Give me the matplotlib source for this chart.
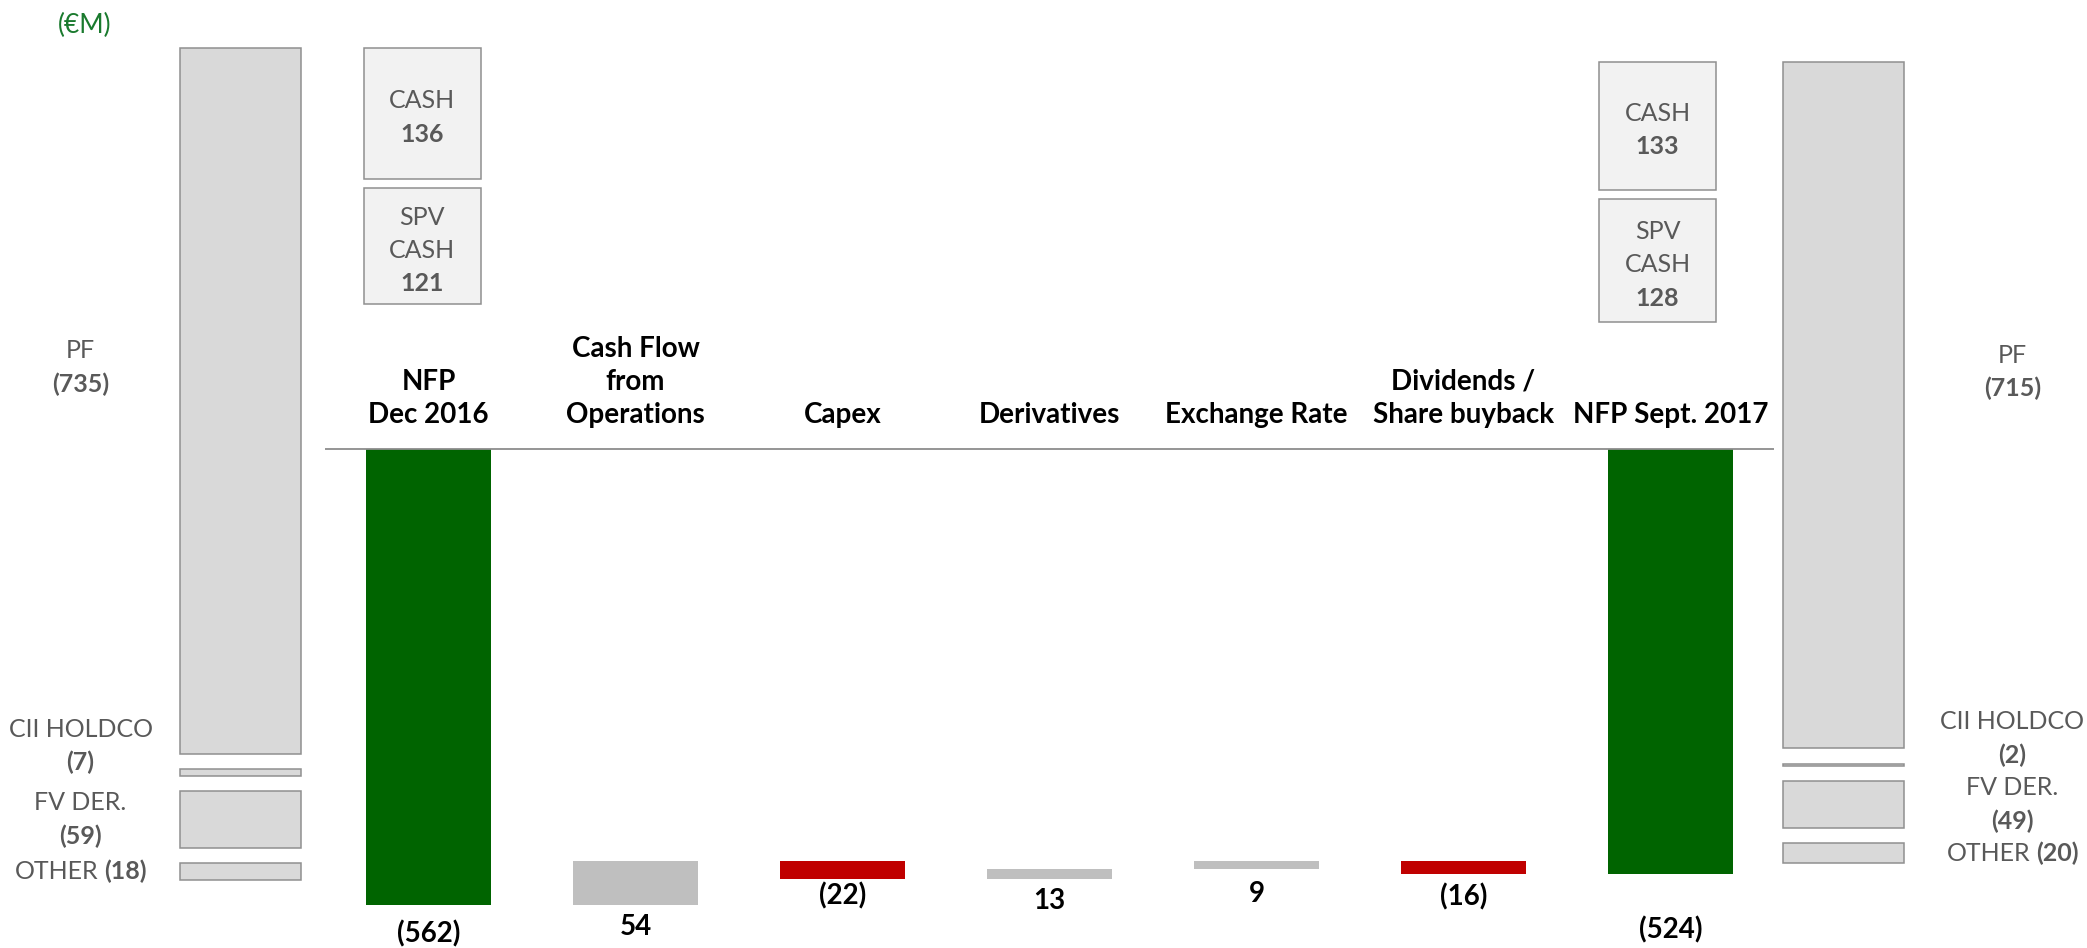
import matplotlib.pyplot as plt

plt.rcParams['font.family'] = ['Lato', 'DejaVu Sans']

# net financial position bridge (EUR M)
categories = ["NFP\nDec 2016", "Cash Flow\nfrom\nOperations", "Capex", "Derivatives",
              "Exchange Rate", "Dividends /\nShare buyback", "NFP Sept. 2017"]
values = [-562, 54, -22, 13, 9, -16, -524]
is_total = [True, False, False, False, False, False, True]

# breakdown of the two NFP bars
debt_items = ["PF", "CII HOLDCO", "FV DER.", "OTHER"]
left_debt = [-735, -7, -59, -18]
right_debt = [-715, -2, -49, -20]
cash_items = ["CASH", "SPV\nCASH"]
left_cash = [136, 121]
right_cash = [133, 128]

GREEN = "#006400"
RED = "#C00000"
GREY_BAR = "#BFBFBF"
LIGHT = "#D9D9D9"
EDGE = "#8F8F8F"
TXT_GREY = "#595959"

W, H = 2087, 948
step = 207.0  # px between categories
PT = 100 / 72.0


def fmt(v):
    return "(%d)" % -v if v < 0 else "%d" % v


fig = plt.figure(figsize=(W / 100, H / 100), dpi=100)
renderer = fig.canvas.get_renderer()
xlim = (-0.5 - 325 / step, -0.5 + (W - 325) / step)

# main waterfall axes, zero line at y=449px
ax = fig.add_axes([0, 0, 1, 1])
k = 0.812
ax.set_xlim(xlim)
ax.set_ylim(-(H - 449) / k, 449 / k)
ax.axis("off")

bottoms, heights, colors = [], [], []
running = 0
for v, tot in zip(values, is_total):
    if tot:
        bottoms.append(0)
        heights.append(v)
        colors.append(GREEN)
        running = v
    else:
        bottoms.append(running)
        heights.append(v)
        colors.append(GREY_BAR if v > 0 else RED)
        running += v

xs = list(range(len(categories)))
ax.bar(xs, heights, bottom=bottoms, width=0.6, color=colors, linewidth=0)
ax.hlines(0, -0.5, 6.5, color="#8C8C8C", lw=1.3)

pads = [11, 6.5, 2, 6, 8.5, 6, 30]
for x, b, h, v, p in zip(xs, bottoms, heights, values, pads):
    low = min(b, b + h)
    ax.annotate(fmt(v), (x, low), xytext=(0, -p), textcoords="offset points",
                ha="center", va="top", fontsize=20, fontweight="bold")

for x, c in zip(xs, categories):
    ax.annotate(c, (x, 0), xytext=(0, 19), textcoords="offset points",
                ha="center", va="baseline", multialignment="center",
                fontsize=20, fontweight="bold", linespacing=1.33)

fig.text(85 / W, 1 - 25 / H, "(€M)", fontsize=19, color="#1a7a2e",
         ha="center", va="center")


def stacked_text(b, x, y, lines, dy=0, ls=24, size=18):
    # grey labels, last line (the number) in bold
    n = len(lines)
    for i, s in enumerate(lines):
        off = dy + ((n - 1) / 2.0 - i) * ls
        b.annotate(s, (x, y), xytext=(0, off), textcoords="offset points",
                   ha="center", va="center", fontsize=size, color=TXT_GREY,
                   fontweight="bold" if i == n - 1 else "normal")


def inline_text(b, x, y, name, num, size=18):
    t1 = b.annotate(name, (x, y), textcoords="offset points", xytext=(0, 0),
                    ha="left", va="center", fontsize=size, color=TXT_GREY)
    t2 = b.annotate(num, (x, y), textcoords="offset points", xytext=(0, 0),
                    ha="left", va="center", fontsize=size, color=TXT_GREY,
                    fontweight="bold")
    w1 = t1.get_window_extent(renderer).width
    w2 = t2.get_window_extent(renderer).width
    sp = 6
    left = -(w1 + sp + w2) / 2
    t1.set_position((left / PT, 0))
    t2.set_position(((left + w1 + sp) / PT, 0))


def breakdown_axes(top_px):
    b = fig.add_axes([0, 0, 1, 1])
    b.set_xlim(xlim)
    kb = 0.96
    b.set_ylim(-(H - top_px) / kb, top_px / kb)
    b.axis("off")
    b.patch.set_alpha(0)
    return b


def draw_stack(b, xc, vals, names, lab_x, lab_dy, gap=16):
    top = 0
    for v, name, dy in zip(vals, names, lab_dy):
        h = abs(v)
        b.bar(xc, -h, bottom=top, width=0.585, color=LIGHT, edgecolor=EDGE, lw=1.1)
        mid = top - h / 2
        if name == "OTHER":
            inline_text(b, lab_x, mid, name, fmt(v))
        else:
            stacked_text(b, lab_x, mid, [name, fmt(v)], dy=dy)
        top -= h + gap


def draw_cash(b, xc, vals, names, gap=10):
    top = 0
    for v, name in zip(vals, names):
        b.bar(xc, -v, bottom=top, width=0.565, color="#F2F2F2", edgecolor=EDGE, lw=1.1)
        stacked_text(b, xc, top - v / 2, name.split("\n") + [fmt(v)], dy=-3)
        top -= v + gap


bl = breakdown_axes(48)
draw_stack(bl, -0.908, left_debt, debt_items, -1.681, [24, 19, 0, 0])
draw_cash(bl, -0.03, left_cash, cash_items)

br = breakdown_axes(62)
draw_stack(br, 6.836, right_debt, debt_items, 7.652, [24, 19, 0, 0])
draw_cash(br, 5.937, right_cash, cash_items)

fig.savefig("out.png", dpi=100)
